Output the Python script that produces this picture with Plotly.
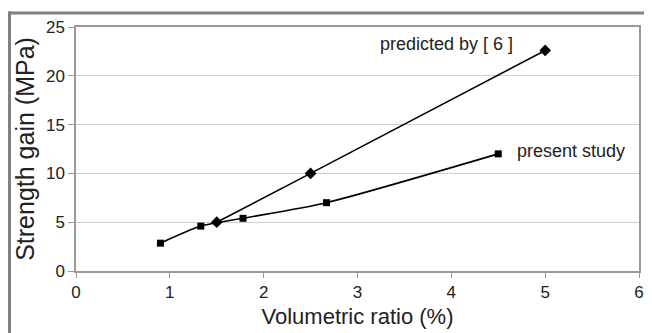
import plotly.graph_objects as go

present_x = [0.9, 1.33, 1.78, 2.67, 4.5]
present_y = [2.85, 4.6, 5.4, 7.0, 12.0]
pred_x = [1.5, 2.5, 5.0]
pred_y = [5.0, 10.0, 22.6]
x_ticks = [0, 1, 2, 3, 4, 5, 6]
y_ticks = [0, 5, 10, 15, 20, 25]

FONT = "Liberation Sans, Arial, sans-serif"

fig = go.Figure()
fig.add_trace(go.Scatter(
    x=present_x, y=present_y, mode="lines+markers",
    line=dict(color="black", width=1.6, shape="spline", smoothing=0.6),
    marker=dict(symbol="square", size=7, color="black"),
    name="present study", showlegend=False))
fig.add_trace(go.Scatter(
    x=pred_x, y=pred_y, mode="lines+markers",
    line=dict(color="black", width=1.6),
    marker=dict(symbol="diamond", size=9, color="black"),
    name="predicted by [ 6 ]", showlegend=False))

fig.add_annotation(x=3.22, y=23.3, text="predicted by [ 6 ]", showarrow=False,
                   xanchor="left", yanchor="middle", font=dict(family=FONT, size=18, color="#222"))
fig.add_annotation(x=4.68, y=12.3, text="present study", showarrow=False,
                   xanchor="left", yanchor="middle", font=dict(family=FONT, size=18, color="#222"))

# outer frame (top and left edges); coordinates in page pixels
pw = 639 - 76
ph = 271 - 27
def px(x): return (x - 76) / pw
def py(y): return (271 - y) / ph
fig.add_shape(type="line", xref="paper", yref="paper", x0=px(8), x1=px(660), y0=py(13), y1=py(13),
              line=dict(color="#808080", width=3))
fig.add_shape(type="line", xref="paper", yref="paper", x0=px(9.5), x1=px(9.5), y0=py(11.5), y1=py(340),
              line=dict(color="#808080", width=3))

# page body has an 8px margin, so the figure is 8px smaller and margins shifted
fig.update_layout(
    width=644, height=325,
    margin=dict(l=68, r=13, t=19, b=62, autoexpand=False),
    paper_bgcolor="white", plot_bgcolor="white",
    font=dict(family=FONT, color="#222"),
)
fig.update_xaxes(
    range=[0, 6], tickvals=x_ticks, ticks="outside", ticklen=5, tickcolor="#999",
    showgrid=False, zeroline=False, showline=True, linecolor="#999", linewidth=1.5, mirror=True,
    automargin=False,
    tickfont=dict(size=17, family=FONT, color="#222"),
    title=dict(text="Volumetric ratio (%)", font=dict(size=22, family=FONT, color="#222"), standoff=7),
)
fig.update_yaxes(
    range=[0, 25], tickvals=y_ticks, ticks="outside", ticklen=6, tickcolor="#999",
    showgrid=True, gridcolor="#cfcfcf", gridwidth=1, zeroline=False,
    showline=True, linecolor="#999", linewidth=1.5, mirror=True,
    automargin=False,
    tickfont=dict(size=17, family=FONT, color="#222"),
    title=dict(text="Strength gain (MPa)", font=dict(size=25, family=FONT, color="#222"), standoff=4),
)
fig.write_html("out.html")
